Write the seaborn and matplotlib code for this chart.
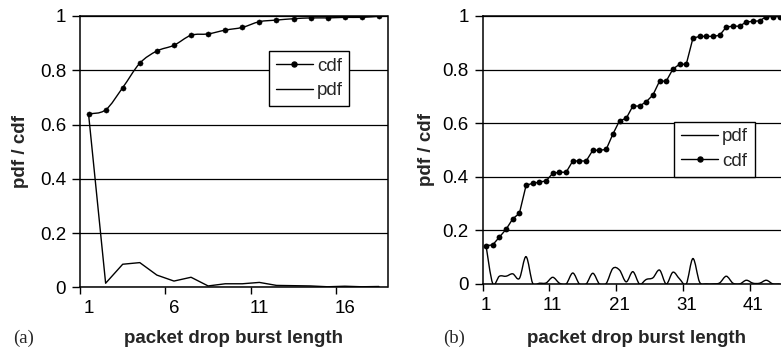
import numpy as np
import matplotlib
matplotlib.use("Agg")
import matplotlib.pyplot as plt
from matplotlib.path import Path
from matplotlib.patches import PathPatch
from matplotlib.lines import Line2D
import seaborn as sns

# (a) burst lengths 1..18
len_a = list(range(1, 19))
cdf_a = [0.639, 0.654, 0.736, 0.826, 0.871, 0.892, 0.929, 0.934, 0.948,
         0.958, 0.979, 0.985, 0.990, 0.993, 0.993, 0.995, 0.995, 0.999]
pdf_a = [0.639, 0.015, 0.085, 0.091, 0.045, 0.023, 0.037, 0.005, 0.013,
         0.013, 0.018, 0.007, 0.006, 0.005, 0.002, 0.004, 0.002, 0.003]

# (b) burst lengths 1..45 (chart is cut at the right edge)
len_b = list(range(1, 46))
cdf_b = [0.143, 0.146, 0.175, 0.204, 0.243, 0.264, 0.368, 0.376, 0.380, 0.385,
         0.413, 0.417, 0.417, 0.459, 0.459, 0.459, 0.499, 0.499, 0.502, 0.559,
         0.609, 0.618, 0.664, 0.664, 0.680, 0.705, 0.757, 0.757, 0.802, 0.820,
         0.820, 0.917, 0.924, 0.924, 0.924, 0.928, 0.959, 0.962, 0.962, 0.978,
         0.980, 0.982, 0.998, 0.998, 0.998]
pdf_b = [0.143, 0.002, 0.029, 0.029, 0.038, 0.021, 0.102, 0.002, 0.003, 0.004,
         0.025, 0.003, 0.000, 0.041, 0.000, 0.000, 0.040, 0.000, 0.002, 0.058,
         0.052, 0.008, 0.046, 0.000, 0.017, 0.023, 0.052, 0.000, 0.044, 0.019,
         0.000, 0.095, 0.007, 0.000, 0.000, 0.004, 0.029, 0.003, 0.000, 0.014,
         0.003, 0.003, 0.014, 0.000, 0.000]

sns.set_theme(style="white")
plt.rcParams['font.family'] = ['Liberation Sans', 'DejaVu Sans']

FS = 13.5


def smooth_path(xs, ys):
    # Excel-like smoothed line (Catmull-Rom as cubic Bezier)
    pts = np.column_stack([xs, ys]).astype(float)
    n = len(pts)
    verts = [pts[0]]
    codes = [Path.MOVETO]
    for i in range(n - 1):
        p0 = pts[i - 1] if i > 0 else pts[i]
        p1, p2 = pts[i], pts[i + 1]
        p3 = pts[i + 2] if i + 2 < n else p2
        verts += [p1 + (p2 - p0) / 6, p2 - (p3 - p1) / 6, p2]
        codes += [Path.CURVE4] * 3
    return Path(verts, codes)


def style_axes(ax, n_cats, step):
    ax.set_xlim(0.5, n_cats + 0.5)
    ax.set_ylim(0, 1)
    ax.set_yticks([0, 0.2, 0.4, 0.6, 0.8, 1])
    ax.set_yticklabels(['0', '0.2', '0.4', '0.6', '0.8', '1'])
    ax.yaxis.grid(True, color='black', lw=0.9)
    ax.xaxis.grid(False)
    ax.set_xticks(list(range(1, n_cats + 1, step)))
    ax.set_xticks(np.arange(0.5, n_cats, step), minor=True)
    ax.tick_params(axis='x', which='major', length=0, pad=9, labelsize=FS, colors='black')
    ax.tick_params(axis='x', which='minor', length=5, width=1, direction='out',
                   bottom=True, color='black')
    ax.tick_params(axis='y', length=6, width=1, direction='out', pad=4,
                   left=True, labelsize=FS, colors='black')
    for s in ax.spines.values():
        s.set_color('black')
        s.set_linewidth(1.1)
    ax.set_xlabel('packet drop burst length', fontsize=FS, fontweight='bold', va='center')
    ax.set_ylabel('pdf / cdf', fontsize=FS, fontweight='bold', va='center')


fig = plt.figure(figsize=(7.81, 3.51), dpi=100)
ax1 = fig.add_axes([80 / 781, 63.7 / 351, 307.5 / 781, 271.3 / 351])
ax2 = fig.add_axes([482.7 / 781, 67 / 351, 307 / 781, 268 / 351])

# panel (a)
style_axes(ax1, 18, 5)
ax1.add_patch(PathPatch(smooth_path(len_a, cdf_a), fill=False, ec='black', lw=1))
sns.scatterplot(x=len_a, y=cdf_a, ax=ax1, color='black', s=14, edgecolor='black', zorder=3)
sns.lineplot(x=len_a, y=pdf_a, ax=ax1, color='black', lw=1)
h_cdf = Line2D([], [], color='black', lw=1, marker='o', markersize=3.6)
h_pdf = Line2D([], [], color='black', lw=1)
leg = ax1.legend([h_cdf, h_pdf], ['cdf', 'pdf'], loc='upper left',
                 bbox_to_anchor=(0.6146, 0.871), borderaxespad=0, fontsize=FS,
                 fancybox=False, framealpha=1, edgecolor='black', handlelength=2.0,
                 handletextpad=0.2, borderpad=0.35, labelspacing=0.4)
leg.get_frame().set_linewidth(1)
ax1.xaxis.set_label_coords(0.5, -0.19)
ax1.yaxis.set_label_coords(-0.1935, 0.5)

# panel (b)
style_axes(ax2, 46, 10)
ax2.add_patch(PathPatch(smooth_path(len_b, pdf_b), fill=False, ec='black', lw=1))
sns.lineplot(x=len_b, y=cdf_b, ax=ax2, color='black', lw=1, marker='o',
             markersize=4.2, markeredgewidth=0)
leg = ax2.legend([h_pdf, h_cdf], ['pdf', 'cdf'], loc='upper left',
                 bbox_to_anchor=(0.624, 0.6056), borderaxespad=0, fontsize=FS,
                 fancybox=False, framealpha=1, edgecolor='black', handlelength=2.0,
                 handletextpad=0.2, borderpad=0.35, labelspacing=0.4)
leg.get_frame().set_linewidth(1)
ax2.xaxis.set_label_coords(0.5, -0.205)
ax2.yaxis.set_label_coords(-0.182, 0.5)

fig.text(12.7 / 781, 1 - 338 / 351, '(a)', family='Liberation Serif', fontsize=FS,
         va='center', ha='left')
fig.text(443.3 / 781, 1 - 338 / 351, '(b)', family='Liberation Serif', fontsize=FS,
         va='center', ha='left')

fig.savefig('out.png', dpi=100)
